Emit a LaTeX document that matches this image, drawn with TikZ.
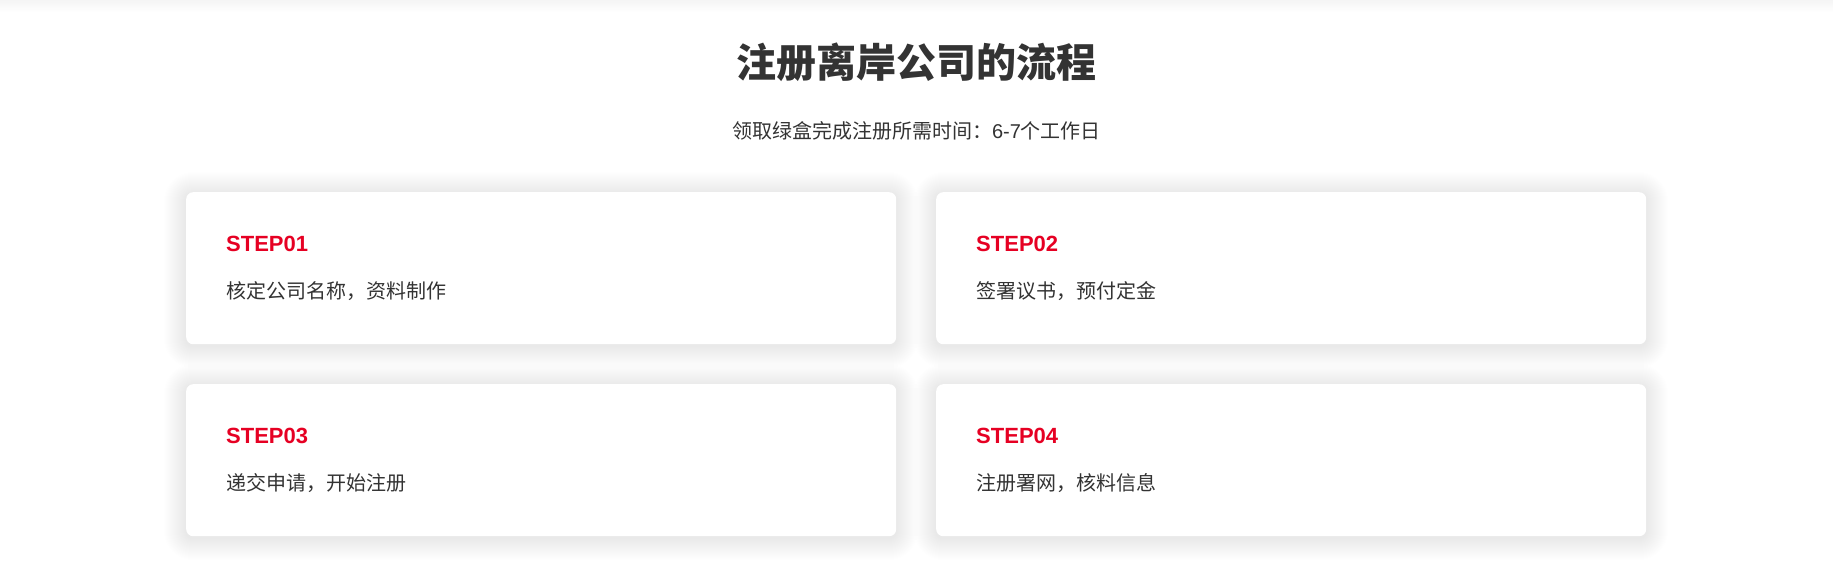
\documentclass[tikz,border=0pt]{standalone}
\usepackage{fontspec}
\setmainfont{Liberation Sans}
\newfontfamily\cjk{Noto Sans CJK SC}
\definecolor{stepred}{RGB}{230,0,35}
\definecolor{txt}{RGB}{51,51,51}
\begin{document}
\begin{tikzpicture}[x=1pt,y=-1pt,
  cardbox/.style={fill=white, rounded corners=7pt, minimum width=710pt, minimum height=152pt, anchor=north west, inner sep=0pt, draw=none},
  steplabel/.style={anchor=base west, inner sep=0pt, text=stepred, font=\fontsize{22}{26}\selectfont\bfseries},
  desclabel/.style={anchor=west, inner sep=0pt, text=txt, font=\fontsize{20}{24}\selectfont\cjk},
  titlelabel/.style={inner sep=0pt, text=txt, font=\fontsize{40}{48}\selectfont\cjk\bfseries},
  sublabel/.style={inner sep=0pt, text=txt, font=\fontsize{20}{24}\selectfont\cjk}]
\useasboundingbox (0,0) rectangle (1833,573);
\fill[white] (0,0) rectangle (1833,573);
\shade[top color=black!4, bottom color=white] (0,0) rectangle (1833,12);

\node[titlelabel] (title) at (916.5,62) {注册离岸公司的流程};
\node[sublabel] (sub) at (916.5,131) {领取绿盒完成注册所需时间：{\fontspec{Liberation Sans}6-7}个工作日};

\foreach \nm/\cx/\cy/\st/\ds in {c1/186/192/STEP01/{核定公司名称，资料制作},
                               c2/936/192/STEP02/{签署议书，预付定金},
                               c3/186/384/STEP03/{递交申请，开始注册},
                               c4/936/384/STEP04/{注册署网，核料信息}} {
  \foreach \i in {1,...,22} {
    \fill[black, fill opacity=0.0028, rounded corners={7pt+\i pt}]
      (\cx-\i, \cy-\i+2) rectangle (\cx+710+\i, \cy+152+\i+2);
  }
  \node[cardbox] (\nm) at (\cx,\cy) {};
  \node[steplabel] (\nm s) at ([shift={(40,59.6)}]\nm.north west) {\st};
  \node[desclabel] (\nm d) at ([shift={(40,99)}]\nm.north west) {\ds};
}
\end{tikzpicture}
\end{document}
